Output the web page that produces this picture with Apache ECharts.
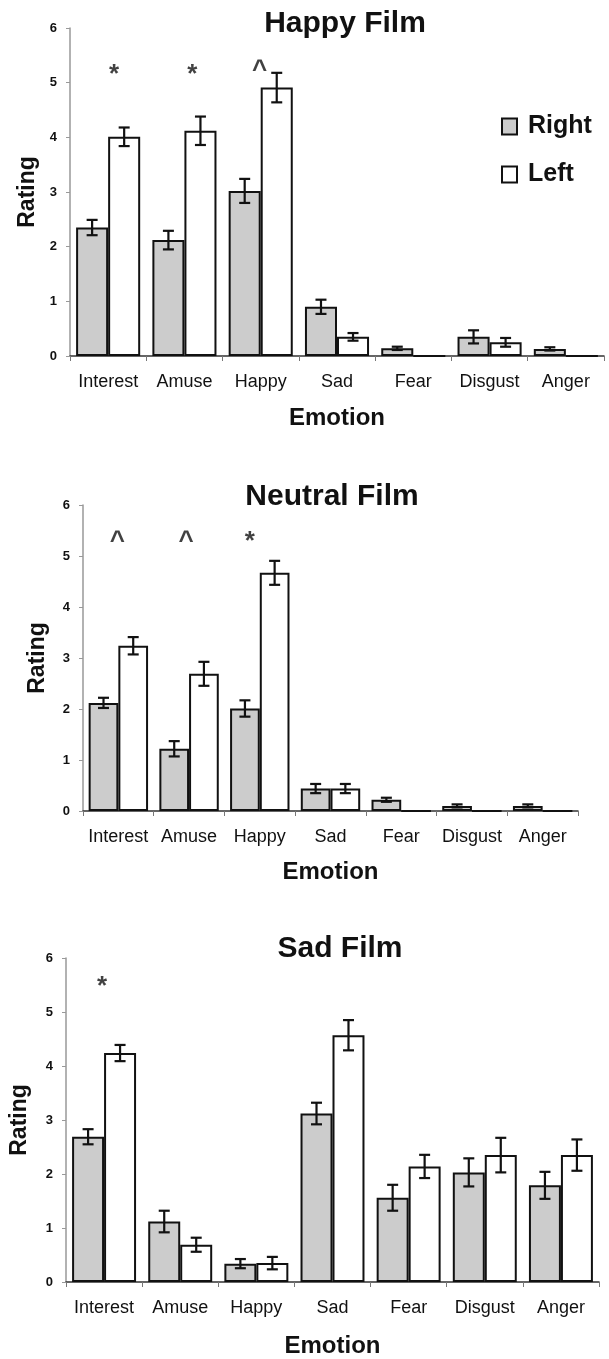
<!DOCTYPE html>
<html>
<head>
<meta charset="utf-8">
<script src="https://cdn.jsdelivr.net/npm/echarts@6/dist/echarts.min.js"></script>
<style>
  html, body { margin: 0; padding: 0; background: #fff; }
  #chart { width: 609px; height: 1359px; }
</style>
</head>
<body>
<div id="chart"></div>
<script>
var categories = ['Interest', 'Amuse', 'Happy', 'Sad', 'Fear', 'Disgust', 'Anger'];
var yTicks = [0, 1, 2, 3, 4, 5, 6];

// happy film
var happyRight = [2.35, 2.12, 3.02, 0.90, 0.14, 0.35, 0.13];
var happyRightErr = [0.14, 0.17, 0.22, 0.13, 0.03, 0.12, 0.03];
var happyLeft = [4.01, 4.12, 4.91, 0.35, 0, 0.25, 0];
var happyLeftErr = [0.17, 0.26, 0.27, 0.07, 0, 0.08, 0];
var happyMarks = [[0, 5.28, '*'], [1, 5.28, '*'], [2, 5.3, '^']];

// neutral film
var neutralRight = [2.12, 1.22, 2.01, 0.44, 0.22, 0.10, 0.10];
var neutralRightErr = [0.10, 0.15, 0.16, 0.09, 0.04, 0.03, 0.03];
var neutralLeft = [3.24, 2.69, 4.67, 0.44, 0, 0, 0];
var neutralLeftErr = [0.17, 0.235, 0.235, 0.09, 0, 0, 0];
var neutralMarks = [[0, 5.38, '^'], [1, 5.38, '^'], [2, 5.41, '*']];

// sad film
var sadRight = [2.69, 1.12, 0.34, 3.12, 1.56, 2.03, 1.79];
var sadRightErr = [0.14, 0.20, 0.085, 0.20, 0.24, 0.26, 0.25];
var sadLeft = [4.24, 0.69, 0.35, 4.57, 2.14, 2.35, 2.35];
var sadLeftErr = [0.15, 0.13, 0.115, 0.28, 0.215, 0.32, 0.29];
var sadMarks = [[0, 5.6, '*']];

var FONT = '"Liberation Sans", Arial, sans-serif';
var GAP = 0.16;

// layout per panel (pixels)
var panels = [
    { title: 'Happy Film', titleX: 340, titleY: 4, left: 70, top: 28, width: 534, height: 328, xNameGap: 50, yNameGap: 31,
      markDx: [6, 8, -1],
      right: happyRight, rightErr: happyRightErr, leftV: happyLeft, leftErr: happyLeftErr, marks: happyMarks },
    { title: 'Neutral Film', titleX: 327, titleY: 477, left: 83, top: 505, width: 495, height: 306, xNameGap: 49, yNameGap: 34,
      markDx: [-1, -3, -10],
      right: neutralRight, rightErr: neutralRightErr, leftV: neutralLeft, leftErr: neutralLeftErr, marks: neutralMarks },
    { title: 'Sad Film', titleX: 335, titleY: 929, left: 66, top: 958, width: 533, height: 329, xNameGap: 52, yNameGap: 35,
      markDx: [-2],
      right: sadRight, rightErr: sadRightErr, leftV: sadLeft, leftErr: sadLeftErr, marks: sadMarks }
];

function errRender(side) {
    return function (params, api) {
        var x = api.value(0), v = api.value(1), e = api.value(2);
        if (!e) return;
        var band = api.size([1, 0])[0];
        var bw = band * (1 - GAP) / 2;
        var cx = api.coord([x, v])[0] + side * bw / 2;
        var hi = api.coord([x, v + e])[1];
        var lo = api.coord([x, v - e])[1];
        var cap = 5.5;
        var st = { stroke: '#111', lineWidth: 2.2 };
        return {
            type: 'group',
            children: [
                { type: 'line', shape: { x1: cx, y1: hi, x2: cx, y2: lo }, style: st },
                { type: 'line', shape: { x1: cx - cap, y1: hi, x2: cx + cap, y2: hi }, style: st },
                { type: 'line', shape: { x1: cx - cap, y1: lo, x2: cx + cap, y2: lo }, style: st }
            ]
        };
    };
}

var option = {
    backgroundColor: '#fff',
    animation: false,
    title: [],
    grid: [],
    xAxis: [],
    yAxis: [],
    series: [],
    legend: {
        data: ['Right', 'Left'],
        orient: 'vertical',
        left: 496,
        top: 109,
        itemGap: 23,
        itemWidth: 15,
        itemHeight: 16,
        icon: 'rect',
        textStyle: { fontFamily: FONT, fontSize: 25, fontWeight: 'bold', color: '#111', padding: [0, 0, 0, 6] }
    }
};

panels.forEach(function (p, i) {
    option.title.push({
        text: p.title,
        left: p.titleX,
        top: p.titleY,
        textAlign: 'center',
        textStyle: { fontFamily: FONT, fontSize: 30, fontWeight: 'bold', color: '#111' }
    });
    option.grid.push({ left: p.left, top: p.top, width: p.width, height: p.height });
    option.xAxis.push({
        type: 'category',
        gridIndex: i,
        data: categories,
        name: 'Emotion',
        nameLocation: 'middle',
        nameGap: p.xNameGap,
        nameTextStyle: { fontFamily: FONT, fontSize: 24, fontWeight: 'bold', color: '#111' },
        axisLine: { lineStyle: { color: '#333', width: 1.5 } },
        axisTick: { show: true, length: 5, lineStyle: { color: '#777' } },
        axisLabel: { fontFamily: FONT, fontSize: 18, color: '#111', margin: 17, interval: 0 }
    });
    option.yAxis.push({
        type: 'value',
        gridIndex: i,
        min: 0,
        max: 6,
        interval: 1,
        name: 'Rating',
        nameLocation: 'middle',
        nameGap: p.yNameGap,
        nameTextStyle: { fontFamily: FONT, fontSize: 23, fontWeight: 'bold', color: '#111' },
        axisLine: { show: true, lineStyle: { color: '#999', width: 1.5 } },
        axisTick: { show: true, length: 4, lineStyle: { color: '#999' } },
        splitLine: { show: false },
        axisLabel: {
            fontFamily: FONT, fontSize: 13, fontWeight: 'bold', color: '#111', margin: 13,
            formatter: function (v) { return yTicks.indexOf(v) >= 0 ? String(v) : ''; }
        }
    });
    option.series.push({
        name: 'Right',
        type: 'bar',
        xAxisIndex: i,
        yAxisIndex: i,
        data: p.right,
        barGap: '0%',
        barCategoryGap: (GAP * 100) + '%',
        itemStyle: { color: '#cccccc', borderColor: '#111', borderWidth: 2 }
    });
    option.series.push({
        name: 'Left',
        type: 'bar',
        xAxisIndex: i,
        yAxisIndex: i,
        data: p.leftV,
        barGap: '0%',
        barCategoryGap: (GAP * 100) + '%',
        itemStyle: { color: '#ffffff', borderColor: '#111', borderWidth: 2 }
    });
    option.series.push({
        type: 'custom',
        xAxisIndex: i,
        yAxisIndex: i,
        z: 5,
        renderItem: errRender(-1),
        data: p.right.map(function (v, k) { return [k, v, p.rightErr[k]]; })
    });
    option.series.push({
        type: 'custom',
        xAxisIndex: i,
        yAxisIndex: i,
        z: 5,
        renderItem: errRender(1),
        data: p.leftV.map(function (v, k) { return [k, v, p.leftErr[k]]; })
    });
    option.series.push({
        type: 'scatter',
        xAxisIndex: i,
        yAxisIndex: i,
        symbolSize: 0,
        z: 6,
        data: p.marks.map(function (m, k) {
            return {
                value: [m[0], m[1], m[2]],
                label: { offset: [p.markDx[k], m[2] === '*' ? 7 : 5] }
            };
        }),
        label: {
            show: true,
            position: 'inside',
            fontFamily: FONT,
            fontSize: 26,
            fontWeight: 'bold',
            color: '#111',
            formatter: function (d) { return d.value[2]; }
        }
    });
});

var myChart = echarts.init(document.getElementById('chart'));
myChart.setOption(option);
</script>
</body>
</html>
